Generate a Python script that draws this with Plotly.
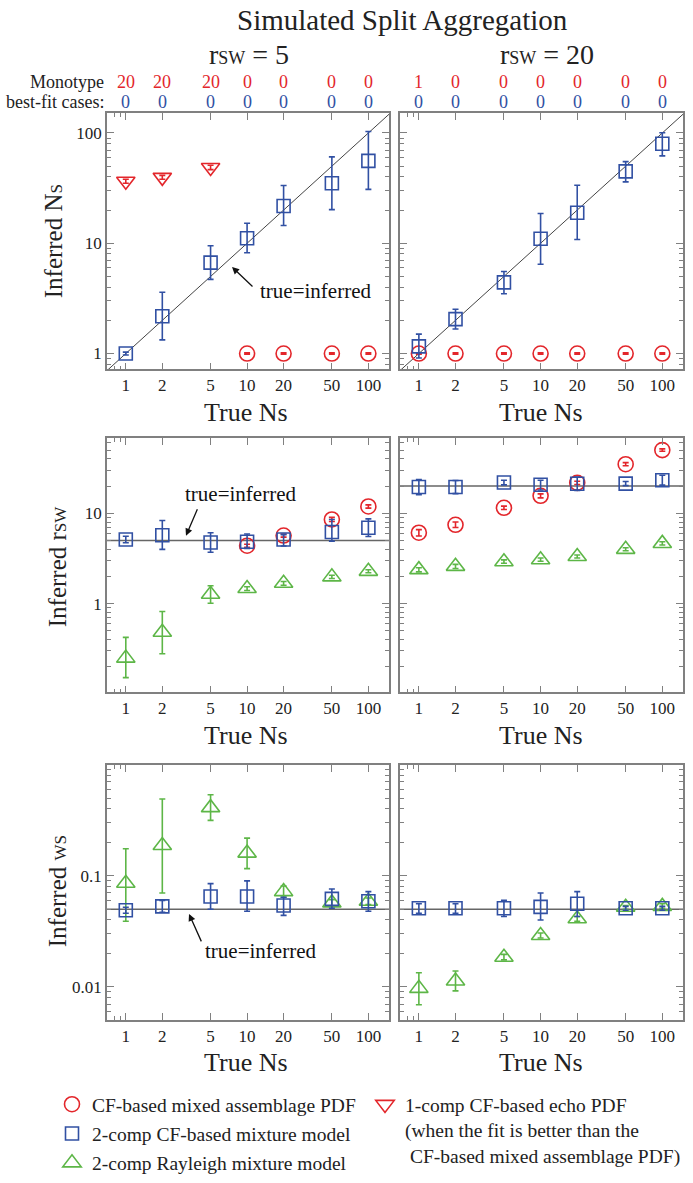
import numpy as np
import plotly.graph_objects as go

# ---------------- data ----------------
true_ns = [1, 2, 5, 10, 20, 50, 100]
x_tick_text = ["1", "2", "5", "10", "20", "50", "100"]

mono_counts_rsw5 = [20, 20, 20, 0, 0, 0, 0]
mono_counts_rsw20 = [1, 0, 0, 0, 0, 0, 0]
bestfit_counts_rsw5 = [0, 0, 0, 0, 0, 0, 0]
bestfit_counts_rsw20 = [0, 0, 0, 0, 0, 0, 0]

true_rsw_left = 5
true_rsw_right = 20
true_ws = 0.05

# Row 1: inferred Ns, rsw = 5
ns5_mix_x = [10, 20, 50, 100]
ns5_mix = [1.0, 1.0, 1.0, 1.0]
ns5_mix_lo = [0.985, 0.985, 0.985, 0.985]
ns5_mix_hi = [1.015, 1.015, 1.015, 1.015]
ns5_echo_x = [1, 2, 5]
ns5_echo = [36.5, 39.6, 48.7]
ns5_echo_lo = [35.0, 38.0, 46.5]
ns5_echo_hi = [38.0, 41.3, 51.0]
ns5_cf2 = [1.0, 2.18, 6.67, 11.1, 21.8, 35.0, 55.9]
ns5_cf2_lo = [0.97, 1.33, 4.7, 8.2, 14.5, 20.2, 30.8]
ns5_cf2_hi = [1.03, 3.6, 9.5, 15.2, 33.4, 60.7, 103.0]

# Row 1: inferred Ns, rsw = 20
ns20_mix = [1.0, 1.0, 1.0, 1.0, 1.0, 1.0, 1.0]
ns20_mix_lo = [0.985] * 7
ns20_mix_hi = [1.015] * 7
ns20_cf2 = [1.16, 2.05, 4.42, 11.0, 18.9, 44.9, 79.8]
ns20_cf2_lo = [0.91, 1.67, 3.48, 6.45, 10.8, 36.0, 62.0]
ns20_cf2_hi = [1.5, 2.52, 5.54, 18.6, 33.6, 55.0, 100.6]

# Row 2: inferred rsw, rsw = 5
rsw5_mix_x = [10, 20, 50, 100]
rsw5_mix = [4.38, 5.67, 8.54, 11.9]
rsw5_mix_lo = [4.2, 5.45, 8.1, 11.4]
rsw5_mix_hi = [4.55, 5.9, 9.0, 12.4]
rsw5_cf2 = [5.13, 5.72, 4.76, 4.84, 5.13, 6.21, 6.92]
rsw5_cf2_lo = [4.72, 3.99, 3.7, 4.09, 4.35, 4.92, 5.53]
rsw5_cf2_hi = [5.58, 8.33, 6.1, 5.9, 5.81, 8.54, 8.67]
rsw5_ray = [0.25, 0.484, 1.27, 1.47, 1.68, 1.98, 2.28]
rsw5_ray_lo = [0.152, 0.279, 1.01, 1.4, 1.6, 1.9, 2.2]
rsw5_ray_hi = [0.424, 0.82, 1.58, 1.54, 1.76, 2.06, 2.37]

# Row 2: inferred rsw, rsw = 20
rsw20_mix = [6.1, 7.46, 11.5, 15.6, 21.7, 34.9, 50.0]
rsw20_mix_lo = [5.6, 6.95, 11.0, 14.8, 20.8, 33.6, 48.5]
rsw20_mix_hi = [6.6, 8.0, 12.0, 16.4, 22.6, 36.3, 51.6]
rsw20_cf2 = [19.5, 19.5, 21.9, 20.7, 21.2, 21.3, 23.2]
rsw20_cf2_lo = [16.0, 16.5, 20.6, 18.1, 17.9, 20.2, 20.5]
rsw20_cf2_hi = [23.6, 23.0, 23.2, 23.2, 25.1, 22.5, 26.3]
rsw20_ray = [2.38, 2.59, 2.91, 3.06, 3.32, 3.99, 4.64]
rsw20_ray_lo = [2.25, 2.45, 2.8, 2.95, 3.2, 3.85, 4.45]
rsw20_ray_hi = [2.5, 2.72, 3.05, 3.2, 3.45, 4.15, 4.85]

# Row 3: inferred Ws, rsw = 5
ws5_cf2 = [0.049, 0.053, 0.065, 0.065, 0.054, 0.062, 0.059]
ws5_cf2_lo = [0.046, 0.047, 0.050, 0.048, 0.044, 0.051, 0.048]
ws5_cf2_hi = [0.052, 0.060, 0.085, 0.090, 0.064, 0.076, 0.072]
ws5_ray = [0.0855, 0.187, 0.41, 0.16, 0.072, 0.057, 0.059]
ws5_ray_lo = [0.039, 0.07, 0.315, 0.116, 0.064, 0.053, 0.055]
ws5_ray_hi = [0.175, 0.49, 0.535, 0.218, 0.081, 0.061, 0.063]

# Row 3: inferred Ws, rsw = 20
ws20_cf2 = [0.051, 0.051, 0.051, 0.0525, 0.056, 0.051, 0.051]
ws20_cf2_lo = [0.046, 0.046, 0.043, 0.040, 0.043, 0.049, 0.049]
ws20_cf2_hi = [0.056, 0.056, 0.060, 0.070, 0.072, 0.053, 0.053]
ws20_ray = [0.0097, 0.0113, 0.0185, 0.029, 0.041, 0.052, 0.053]
ws20_ray_lo = [0.0069, 0.0092, 0.0175, 0.0275, 0.039, 0.050, 0.051]
ws20_ray_hi = [0.0134, 0.0139, 0.0196, 0.0305, 0.043, 0.054, 0.056]

# ---------------- style ----------------
W, H = 693, 1183
FONT = "Liberation Serif, Times New Roman, serif"
RED = "#e3262b"
BLUE = "#3150a3"
GREEN = "#5db647"
AXC = "#808080"

NAME_MIX = "CF-based mixed assemblage PDF"
NAME_CF2 = "2-comp CF-based mixture model"
NAME_RAY = "2-comp Rayleigh mixture model"
NAME_ECHO = ("1-comp CF-based echo PDF<br>(when the fit is better than the<br>"
             " CF-based mixed assemblage PDF)")


def px(x):
    return x / W


def py(y):
    return 1 - y / H


x_dom_left = [px(107), px(389)]
x_dom_right = [px(400), px(683)]
y_dom = {1: [py(375), py(115)], 2: [py(703), py(445)], 3: [py(1036), py(777)]}
x_range = [-0.155, 2.17]
y_range = {1: [-0.143, 2.179], 2: [-0.98, 1.83], 3: [-2.3, -0.005]}
y_tickvals = {1: [1, 10, 100], 2: [0.1, 1, 10], 3: [0.01, 0.1, 1]}
y_ticktext = {1: ["1", "10", "100"], 2: ["0.1", "1", "10"], 3: ["0.01", "0.1", "1"]}

fig = go.Figure()
shown = set()


def add_series(xs, ys, lo, hi, color, symbol, name, panel, legend="legend", size=15):
    xa = "x" if panel == 1 else f"x{panel}"
    ya = "y" if panel == 1 else f"y{panel}"
    show = name not in shown
    shown.add(name)
    fig.add_trace(go.Scatter(
        x=xs, y=ys, mode="markers", name=name, legend=legend,
        legendgroup=name, showlegend=show,
        marker=dict(symbol=symbol, size=size, color=color,
                    line=dict(width=1.6, color=color)),
        error_y=dict(type="data", symmetric=False,
                     array=[h - v for h, v in zip(hi, ys)],
                     arrayminus=[v - l for v, l in zip(ys, lo)],
                     color=color, thickness=1.6, width=3),
        xaxis=xa, yaxis=ya, cliponaxis=False))


def add_line(xs, ys, panel, color="#555555", width=1.2):
    xa = "x" if panel == 1 else f"x{panel}"
    ya = "y" if panel == 1 else f"y{panel}"
    fig.add_trace(go.Scatter(x=xs, y=ys, mode="lines", showlegend=False,
                             line=dict(color=color, width=width),
                             xaxis=xa, yaxis=ya, hoverinfo="skip"))


# reference lines (from axis range / true values)
x_lo, x_hi = 10 ** x_range[0], 10 ** x_range[1]
add_line([x_lo, x_hi], [x_lo, x_hi], 1, "#444444", 1.0)
add_line([x_lo, x_hi], [x_lo, x_hi], 2, "#444444", 1.0)
add_line([x_lo, x_hi], [true_rsw_left] * 2, 3, "#666666", 1.5)
add_line([x_lo, x_hi], [true_rsw_right] * 2, 4, "#666666", 1.5)
add_line([x_lo, x_hi], [true_ws] * 2, 5, "#666666", 1.5)
add_line([x_lo, x_hi], [true_ws] * 2, 6, "#666666", 1.5)

SQ, CI, TR = 13, 15, 16
# row 1
add_series(ns5_mix_x, ns5_mix, ns5_mix_lo, ns5_mix_hi, RED, "circle-open", NAME_MIX, 1, size=CI)
add_series(true_ns, ns5_cf2, ns5_cf2_lo, ns5_cf2_hi, BLUE, "square-open", NAME_CF2, 1, size=SQ)
add_series(ns5_echo_x, ns5_echo, ns5_echo_lo, ns5_echo_hi, RED, "triangle-down-open", NAME_ECHO, 1,
           legend="legend2", size=TR)
add_series(true_ns, ns20_mix, ns20_mix_lo, ns20_mix_hi, RED, "circle-open", NAME_MIX, 2, size=CI)
add_series(true_ns, ns20_cf2, ns20_cf2_lo, ns20_cf2_hi, BLUE, "square-open", NAME_CF2, 2, size=SQ)
# row 2
add_series(rsw5_mix_x, rsw5_mix, rsw5_mix_lo, rsw5_mix_hi, RED, "circle-open", NAME_MIX, 3, size=CI)
add_series(true_ns, rsw5_cf2, rsw5_cf2_lo, rsw5_cf2_hi, BLUE, "square-open", NAME_CF2, 3, size=SQ)
add_series(true_ns, rsw5_ray, rsw5_ray_lo, rsw5_ray_hi, GREEN, "triangle-up-open", NAME_RAY, 3, size=TR)
add_series(true_ns, rsw20_mix, rsw20_mix_lo, rsw20_mix_hi, RED, "circle-open", NAME_MIX, 4, size=CI)
add_series(true_ns, rsw20_cf2, rsw20_cf2_lo, rsw20_cf2_hi, BLUE, "square-open", NAME_CF2, 4, size=SQ)
add_series(true_ns, rsw20_ray, rsw20_ray_lo, rsw20_ray_hi, GREEN, "triangle-up-open", NAME_RAY, 4, size=TR)
# row 3
add_series(true_ns, ws5_ray, ws5_ray_lo, ws5_ray_hi, GREEN, "triangle-up-open", NAME_RAY, 5, size=TR)
add_series(true_ns, ws5_cf2, ws5_cf2_lo, ws5_cf2_hi, BLUE, "square-open", NAME_CF2, 5, size=SQ)
add_series(true_ns, ws20_ray, ws20_ray_lo, ws20_ray_hi, GREEN, "triangle-up-open", NAME_RAY, 6, size=TR)
add_series(true_ns, ws20_cf2, ws20_cf2_lo, ws20_cf2_hi, BLUE, "square-open", NAME_CF2, 6, size=SQ)

# ---------------- axes ----------------
axis_common = dict(type="log", showline=True, mirror="ticks", linecolor=AXC, linewidth=1.5,
                   ticks="inside", ticklen=7, tickwidth=1.2, tickcolor=AXC,
                   showgrid=False, zeroline=False,
                   tickfont=dict(family=FONT, size=17, color="#222"))

layout_axes = {}
for panel in range(1, 7):
    row = (panel + 1) // 2
    left = panel % 2 == 1
    xk = "xaxis" if panel == 1 else f"xaxis{panel}"
    yk = "yaxis" if panel == 1 else f"yaxis{panel}"
    ya_name = "y" if panel == 1 else f"y{panel}"
    xa_name = "x" if panel == 1 else f"x{panel}"
    minor_y = [m * 10 ** e for e in range(-3, 3) for m in range(2, 10)]
    layout_axes[xk] = dict(axis_common, domain=x_dom_left if left else x_dom_right,
                           range=x_range, anchor=ya_name,
                           tickvals=true_ns, ticktext=x_tick_text,
                           minor=dict(ticks="inside", ticklen=4, tickcolor=AXC,
                                      tickmode="array", tickvals=[0.8, 0.9]))
    layout_axes[yk] = dict(axis_common, domain=y_dom[row], range=y_range[row],
                           anchor=xa_name, tickvals=y_tickvals[row],
                           ticktext=y_ticktext[row], showticklabels=left,
                           minor=dict(ticks="inside", ticklen=4, tickcolor=AXC,
                                      tickmode="array", tickvals=minor_y))

# ---------------- annotations ----------------
ann = []


def text(x, y, t, size, color="#222", xanchor="center", angle=0):
    ann.append(dict(x=x, y=y, xref="paper", yref="paper", text=t, showarrow=False,
                    xanchor=xanchor, yanchor="middle", textangle=angle,
                    font=dict(family=FONT, size=size, color=color)))


text(px(402), py(20), "Simulated Split Aggregation", 29)
text(px(249), py(55), "r<span style='font-size:18px'>SW</span> = 5", 28)
text(px(547), py(55), "r<span style='font-size:18px'>SW</span> = 20", 28)
text(px(106), py(83), "Monotype", 18, xanchor="right")
text(px(106), py(104), "best-fit cases:", 18, xanchor="right")

for xa, mono, best in (("x", mono_counts_rsw5, bestfit_counts_rsw5),
                       ("x2", mono_counts_rsw20, bestfit_counts_rsw20)):
    for v, m, b in zip(true_ns, mono, best):
        ann.append(dict(x=np.log10(v), y=py(83), xref=xa, yref="paper", text=str(m),
                        showarrow=False, xanchor="center", yanchor="middle",
                        font=dict(family=FONT, size=18, color=RED)))
        ann.append(dict(x=np.log10(v), y=py(104), xref=xa, yref="paper", text=str(b),
                        showarrow=False, xanchor="center", yanchor="middle",
                        font=dict(family=FONT, size=18, color=BLUE)))

for yc in (419, 747, 1079):
    text(px(246), py(yc), "True Ns", 26)
    text(px(541), py(yc), "True Ns", 26)

text(px(53), py(245), "Inferred N<span style='font-size:17px'>S</span>", 25, angle=-90)
text(px(57), py(575), "Inferred r<span style='font-size:17px'>SW</span>", 25, angle=-90)
text(px(57), py(905), "Inferred <span style='font-size:17px'>WS</span>", 25, angle=-90)


def arrow(hx, hy, tx, ty):
    ann.append(dict(x=px(hx), y=py(hy), ax=tx - hx, ay=ty - hy, xref="paper", yref="paper",
                    axref="pixel", ayref="pixel", text="", showarrow=True,
                    arrowhead=2, arrowsize=1.1, arrowwidth=1.3, arrowcolor="#111"))


text(px(315), py(295), "true=inferred", 21, color="#111")
arrow(232, 271, 254, 292)
text(px(240), py(502), "true=inferred", 21, color="#111")
arrow(186, 544, 198, 516)
text(px(260), py(966), "true=inferred", 21, color="#111")
arrow(189, 928, 202, 957)

legend_font = dict(family=FONT, size=19.5, color="#222")
fig.update_layout(
    width=W, height=H, margin=dict(l=0, r=0, t=0, b=0),
    paper_bgcolor="white", plot_bgcolor="white",
    annotations=ann,
    legend=dict(x=px(52), y=py(1102), xanchor="left", yanchor="top",
                font=legend_font, bgcolor="rgba(0,0,0,0)", tracegroupgap=1,
                itemclick=False),
    legend2=dict(x=px(365), y=py(1102), xanchor="left", yanchor="top",
                 font=legend_font, bgcolor="rgba(0,0,0,0)", valign="top",
                 itemclick=False),
    **layout_axes,
)

# the page's default 8px body margin would shift the fixed-size figure
fig.write_html("out.html", config={"displayModeBar": False},
               post_script="document.body.style.margin='0px';")
